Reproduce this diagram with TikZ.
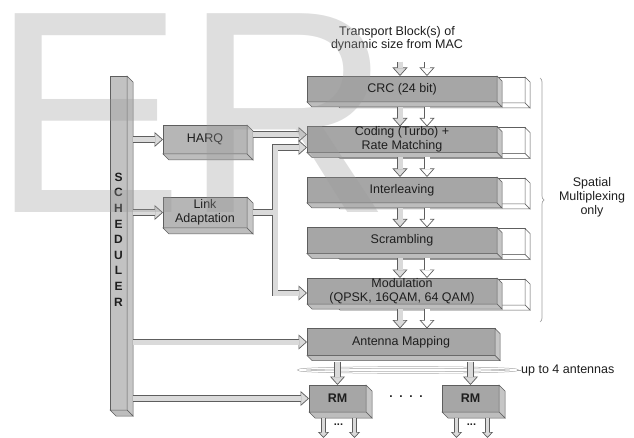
\documentclass[tikz,border=0pt]{standalone}
\usepackage{fontspec}
\setmainfont{Liberation Sans}
\usetikzlibrary{arrows.meta,decorations.pathreplacing,calc,shapes.geometric}
\definecolor{boxfront}{HTML}{A6A6A6}
\definecolor{boxside}{HTML}{C6C6C6}
\definecolor{boxbot}{HTML}{BDBDBD}
\definecolor{lightfront}{HTML}{B6B6B6}
\definecolor{schedfront}{HTML}{C2C2C2}
\definecolor{edgec}{HTML}{5E5E5E}
\definecolor{arrowfill}{HTML}{DADADA}
\definecolor{txt}{HTML}{1E1E1E}
\definecolor{wm}{HTML}{9A9A9A}
\definecolor{lensc}{HTML}{A0A0A0}
\newcommand\boxfaces[4]{%
  \filldraw[#3, draw=edgec, line width=0.5pt] (#1.north east) -- ++(#2,#2) -- ($(#1.south east)+(#2,#2)$) -- (#1.south east) -- cycle;
  \filldraw[#4, draw=edgec, line width=0.5pt] (#1.south west) -- ($(#1.south west)+(#2,#2)$) -- ($(#1.south east)+(#2,#2)$) -- (#1.south east) -- cycle;}
\tikzset{
  basebox/.style={rectangle, draw=edgec, line width=0.6pt, inner sep=0pt, outer sep=0pt,
    align=center, text=txt, font=\fontsize{12.5}{14}\selectfont},
  mainbox/.style={basebox, fill=boxfront, minimum width=190pt, minimum height=26pt},
  backbox/.style={basebox, fill=white, minimum width=190pt, minimum height=26pt},
  sidebox/.style={basebox, fill=lightfront, minimum width=84pt},
  rmbox/.style={basebox, fill=boxfront, minimum width=57pt, minimum height=27pt, font=\bfseries\fontsize{12.5}{14}\selectfont},
  schedbox/.style={basebox, fill=schedfront, minimum width=17pt, minimum height=334pt},
  plain/.style={align=center, text=txt, inner sep=0pt, font=\fontsize{12.5}{14}\selectfont},
  arrout/.style={draw=edgec, line width=6.8pt, -{Triangle[length=8.5pt,width=15pt,line width=0.7pt,fill=#1]}},
  arrin/.style={draw=#1, line width=5.0pt, shorten >=7.8pt},
  sarrout/.style={draw=edgec, line width=4.8pt, -{Triangle[length=6pt,width=11pt,line width=0.7pt,fill=#1]}},
  sarrin/.style={draw=#1, line width=3.2pt, shorten >=5.3pt},
}
\newcommand\bigarrows[1]{%
  \draw[#1=arrowfill] ($(sched.east |- harq.west)+(6,0)$) -- (harq.west);
  \draw[#1=arrowfill] ($(sched.east |- la.west)+(6,0)$) -- (la.west);
  \draw[#1=arrowfill] ($(sched.east |- am.west)+(6,0)$) -- (am.west);
  \draw[#1=arrowfill] ($(sched.east |- rml.west)+(6,0)$) -- (rml.west);
  \draw[#1=arrowfill] ($(harq.east)+(6,-5)$) -- ($(cod.west)+(0,-5)$);
  \draw[#1=arrowfill] ($(la.east)+(6,0)$) -- ++(22,0) |- ($(cod.west)+(0,8)$);
  \draw[#1=arrowfill] ($(la.east)+(6,0)$) -- ++(22,0) |- ($(mod.west)+(0,2)$);
  \draw[#1=arrowfill] ($(crc.north)+(-2,-14)$) -- ($(crc.north)+(-2,0)$);
  \draw[#1=white] ($(crc.north)+(25,-14)$) -- ($(crc.north)+(25,0)$);
  \draw[#1=arrowfill] ($(crc.south)+(-2,5)$) -- ($(cod.north)+(-2,0)$);
  \draw[#1=white] ($(crc.south)+(25,5)$) -- ($(cod.north)+(25,0)$);
  \draw[#1=arrowfill] ($(cod.south)+(-2,5)$) -- ($(int.north)+(-2,0)$);
  \draw[#1=white] ($(cod.south)+(25,5)$) -- ($(int.north)+(25,0)$);
  \draw[#1=arrowfill] ($(int.south)+(-2,5)$) -- ($(scr.north)+(-2,0)$);
  \draw[#1=white] ($(int.south)+(25,5)$) -- ($(scr.north)+(25,0)$);
  \draw[#1=arrowfill] ($(scr.south)+(-2,5)$) -- ($(mod.north)+(-2,0)$);
  \draw[#1=white] ($(scr.south)+(25,5)$) -- ($(mod.north)+(25,0)$);
  \draw[#1=arrowfill] ($(mod.south)+(-2,5)$) -- ($(am.north)+(-1,0)$);
  \draw[#1=white] ($(mod.south)+(25,5)$) -- ($(am.north)+(26,0)$);
  \draw[#1=arrowfill] ($(am.south -| rml.north)+(0,6)$) -- (rml.north);
  \draw[#1=arrowfill] ($(am.south -| rmr.north)+(0,6)$) -- (rmr.north);
}
\newcommand\smallarrows[1]{%
  \draw[#1=arrowfill] ($(rml.south)+(-14,6)$) -- (o1);
  \draw[#1=arrowfill] ($(rml.south)+(17,6)$) -- (o2);
  \draw[#1=arrowfill] ($(rmr.south)+(-14,6)$) -- (o3);
  \draw[#1=arrowfill] ($(rmr.south)+(17,6)$) -- (o4);
}
\begin{document}
\begin{tikzpicture}[x=1pt,y=-1pt]
\useasboundingbox (0,0) rectangle (634,438);
% stacked copies behind
\foreach \n/\yy in {crcb/90,codb/140.5,intb/191,scrb/241.5,modb/292}{
  \node[backbox] (\n) at (430,\yy) {};
  \boxfaces{\n}{5}{white}{white}
}
% main processing chain
\node[mainbox] (crc) at (402,89) {CRC (24 bit)};
\node[mainbox] (cod) at (402,139.5) {Coding (Turbo) +\\Rate Matching};
\node[mainbox] (int) at (402,190) {Interleaving};
\node[mainbox] (scr) at (402,240.5) {Scrambling};
\node[mainbox] (mod) at (402,291) {Modulation\\(QPSK, 16QAM, 64 QAM)};
\node[mainbox, minimum width=188pt, minimum height=27pt] (am) at (401,342) {Antenna Mapping};
\foreach \n in {crc,cod,int,scr,mod,am}{\boxfaces{\n}{5}{boxside}{boxbot}}
% scheduler
\node[schedbox] (sched) at (118.5,243) {};
\boxfaces{sched}{6}{boxside}{boxbot}
\node[plain, font=\bfseries\fontsize{12}{15.6}\selectfont] (schedlbl) at (118.5,239.5) {S\\C\\H\\E\\D\\U\\L\\E\\R};
% HARQ and link adaptation
\node[sidebox, minimum height=29pt] (harq) at (205,139.5) {HARQ};
\boxfaces{harq}{6}{boxside}{boxbot}
\node[sidebox, minimum height=31pt] (la) at (205,212.5) {Link\\Adaptation};
\boxfaces{la}{6}{boxside}{boxbot}
% RM boxes
\node[rmbox] (rml) at (337.5,398.5) {RM};
\boxfaces{rml}{6}{boxside}{boxbot}
\node[rmbox] (rmr) at (470.5,398.5) {RM};
\boxfaces{rmr}{6}{boxside}{boxbot}
\coordinate (o1) at ($(rml.south)+(-14,26)$);
\coordinate (o2) at ($(rml.south)+(17,26)$);
\coordinate (o3) at ($(rmr.south)+(-14,26)$);
\coordinate (o4) at ($(rmr.south)+(17,26)$);
% title
\node[plain, font=\fontsize{12.5}{13}\selectfont] (title) at (397,38.5) {Transport Block(s) of\\dynamic size from MAC};
% antenna lens
\node[ellipse, draw=lensc, double=white, double distance=1.2pt, line width=0.5pt, minimum width=217pt, minimum height=5pt, inner sep=0pt] (lens) at (408,370) {};
\node[plain, anchor=west] (ant) at (521,370) {up to 4 antennas};
\draw[lensc, line width=0.6pt] (lens.east) -- (ant.west);
% arrows
\bigarrows{arrout}
\bigarrows{arrin}
\smallarrows{sarrout}
\smallarrows{sarrin}
% dots
\node[plain, font=\bfseries\fontsize{11}{12}\selectfont] (dotsl) at (338.5,425) {...};
\node[plain, font=\bfseries\fontsize{11}{12}\selectfont] (dotsr) at (471.5,425) {...};
\node[plain, font=\bfseries\fontsize{12}{12}\selectfont] (dotsm) at (406,397) {.\ \ .\ \ .\ \ .};
% brace
\coordinate (bt) at (540,78);
\coordinate (bb) at (540,322);
\draw[decorate, decoration={brace, amplitude=4pt}, draw=lensc, line width=0.7pt] (bt) -- (bb);
\node[plain] (spatial) at (592,197) {Spatial\\Multiplexing\\only};
% watermark
\node[anchor=base west, inner sep=0pt, outer sep=0pt, text=wm, opacity=0.33, font=\fontsize{289}{289}\selectfont] (wmark) at (0,213) {\kern-9pt ER};
\end{tikzpicture}
\end{document}
